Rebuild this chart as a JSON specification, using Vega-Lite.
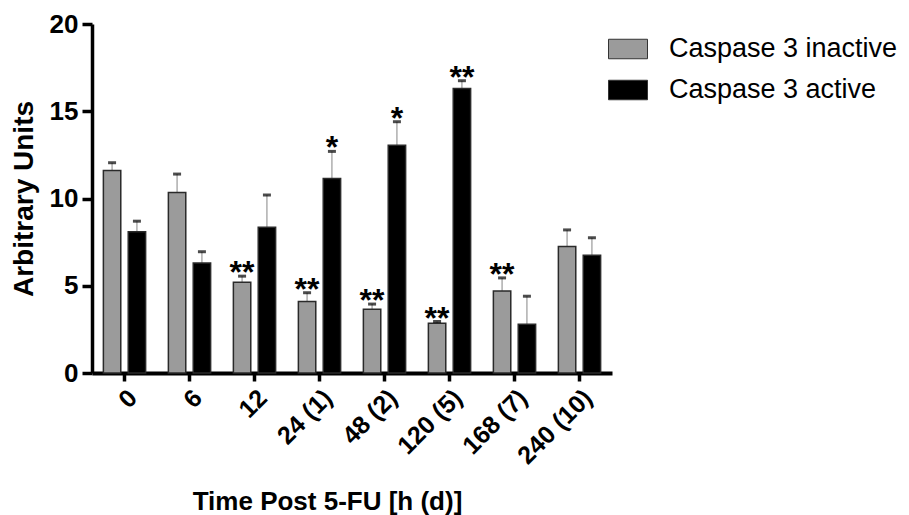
{
  "$schema": "https://vega.github.io/schema/vega-lite/v6.json",
  "width": 520,
  "height": 349,
  "autosize": "none",
  "padding": {"left": 92, "top": 24, "right": 297, "bottom": 142},
  "background": "white",
  "config": {"view": {"stroke": null}, "font": "Liberation Sans"},
  "data": {"values": [
    {"t": "0", "series": "Caspase 3 inactive", "value": 11.6, "err": 12.05, "sig": ""},
    {"t": "0", "series": "Caspase 3 active", "value": 8.1, "err": 8.7, "sig": ""},
    {"t": "6", "series": "Caspase 3 inactive", "value": 10.35, "err": 11.4, "sig": ""},
    {"t": "6", "series": "Caspase 3 active", "value": 6.3, "err": 6.95, "sig": ""},
    {"t": "12", "series": "Caspase 3 inactive", "value": 5.2, "err": 5.55, "sig": "**"},
    {"t": "12", "series": "Caspase 3 active", "value": 8.35, "err": 10.2, "sig": ""},
    {"t": "24 (1)", "series": "Caspase 3 inactive", "value": 4.1, "err": 4.6, "sig": "**"},
    {"t": "24 (1)", "series": "Caspase 3 active", "value": 11.15, "err": 12.7, "sig": "*"},
    {"t": "48 (2)", "series": "Caspase 3 inactive", "value": 3.65, "err": 3.95, "sig": "**"},
    {"t": "48 (2)", "series": "Caspase 3 active", "value": 13.05, "err": 14.4, "sig": "*"},
    {"t": "120 (5)", "series": "Caspase 3 inactive", "value": 2.85, "err": 2.95, "sig": "**"},
    {"t": "120 (5)", "series": "Caspase 3 active", "value": 16.3, "err": 16.75, "sig": "**"},
    {"t": "168 (7)", "series": "Caspase 3 inactive", "value": 4.7, "err": 5.45, "sig": "**"},
    {"t": "168 (7)", "series": "Caspase 3 active", "value": 2.8, "err": 4.4, "sig": ""},
    {"t": "240 (10)", "series": "Caspase 3 inactive", "value": 7.25, "err": 8.2, "sig": ""},
    {"t": "240 (10)", "series": "Caspase 3 active", "value": 6.75, "err": 7.75, "sig": ""}
  ]},
  "encoding": {
    "x": {
      "field": "t", "type": "nominal", "sort": null,
      "scale": {"paddingInner": 0.35, "paddingOuter": 0.175},
      "axis": {
        "title": "Time Post 5-FU [h (d)]",
        "titleFontSize": 26, "titleFontWeight": "bold", "titleColor": "black",
        "titleX": 235, "titleY": 136, "titleBaseline": "alphabetic", "titleAnchor": "middle",
        "labelAngle": -45, "labelFontSize": 25, "labelFontWeight": "bold", "labelColor": "black",
        "labelPadding": 4, "labelDx": -6, "labelDy": -3,
        "domainColor": "black", "domainWidth": 4,
        "tickColor": "black", "tickWidth": 3.5, "tickSize": 8
      }
    },
    "xOffset": {
      "field": "series", "type": "nominal",
      "sort": ["Caspase 3 inactive", "Caspase 3 active"],
      "scale": {"paddingInner": 0.3}
    }
  },
  "layer": [
    {
      "mark": {"type": "rule", "color": "#999999", "strokeWidth": 1.2},
      "encoding": {
        "y": {"field": "value", "type": "quantitative"},
        "y2": {"field": "err"}
      }
    },
    {
      "mark": {"type": "bar", "stroke": "#2a2a2a", "strokeWidth": 1.5},
      "encoding": {
        "y": {
          "field": "value", "type": "quantitative",
          "scale": {"domain": [0, 20]},
          "axis": {
            "title": "Arbitrary Units",
            "titleFontSize": 28, "titleFontWeight": "bold", "titleColor": "black", "titlePadding": 11,
            "values": [0, 5, 10, 15, 20], "grid": false,
            "labelFontSize": 26, "labelFontWeight": "bold", "labelColor": "black", "labelPadding": 4,
            "domainColor": "black", "domainWidth": 3.5,
            "tickColor": "black", "tickWidth": 3.5, "tickSize": 10
          }
        },
        "color": {
          "field": "series", "type": "nominal",
          "scale": {"domain": ["Caspase 3 inactive", "Caspase 3 active"], "range": ["#9b9b9b", "#000000"]},
          "legend": {
            "orient": "none", "legendX": 516, "legendY": 5, "title": null,
            "symbolType": "M-1,-0.5H1V0.5H-1Z", "symbolSize": 1521,
            "symbolStrokeColor": "#333333", "symbolStrokeWidth": 1,
            "labelFontSize": 27, "labelFont": "Liberation Sans", "labelColor": "black",
            "labelLimit": 0, "labelOffset": 21, "rowPadding": 8, "padding": 0
          }
        }
      }
    },
    {
      "mark": {"type": "tick", "orient": "horizontal", "size": 8, "thickness": 3, "color": "#000000"},
      "encoding": {"y": {"field": "err", "type": "quantitative"}}
    },
    {
      "mark": {"type": "text", "fontSize": 32, "fontWeight": "bold", "baseline": "alphabetic", "dy": 7, "color": "black"},
      "encoding": {
        "y": {"field": "err", "type": "quantitative"},
        "text": {"field": "sig"}
      }
    }
  ]
}
